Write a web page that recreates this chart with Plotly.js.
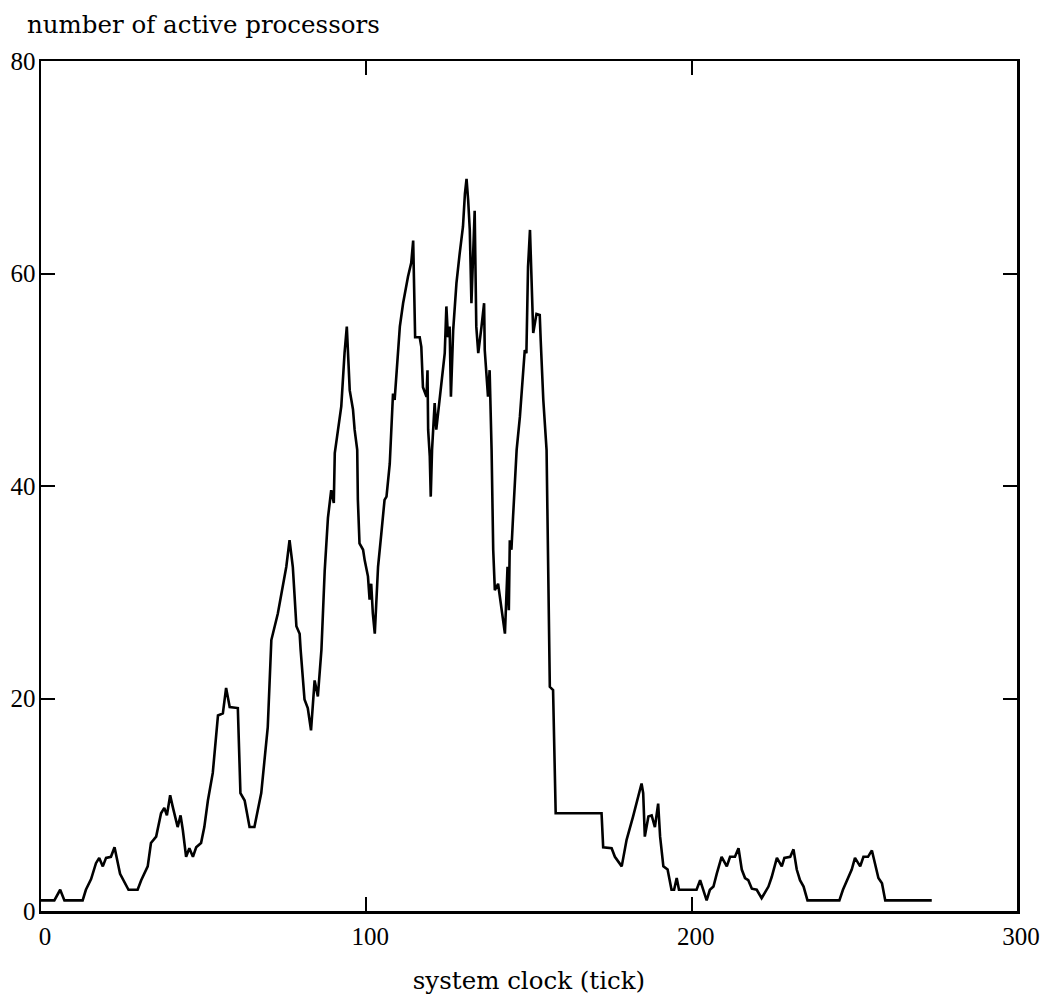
<!DOCTYPE html>
<html>
<head>
<meta charset="utf-8">
<script src="https://cdn.plot.ly/plotly-3.0.1.min.js"></script>
<style>
  html, body { margin: 0; padding: 0; background: #ffffff; }
  #chart { width: 1042px; height: 1003px; }
</style>
</head>
<body>
<div id="chart"></div>
<script>
// system clock (tick)
const ticks = [
  0, 4.1, 5.9, 7.2, 12.8, 13.8, 15.4, 16.9, 17.9, 19, 20, 21.5, 22.6, 24.3, 26.9, 29.7,
  30.8, 32.8, 33.8, 35.4, 36.9, 37.9, 38.7, 39.7, 40.5, 42, 42.9, 43.6, 44.6, 45.6, 46.7,
  47.7, 49.2, 50.2, 51.3, 52.8, 54.4, 55.9, 56.9, 58, 60.5, 61.3, 62.6, 64.1, 65.6, 67.7,
  69.7, 70.8, 72.8, 74.4, 75.4, 76.4, 77.4, 77.9, 78.5, 79.5, 79.8, 81, 82, 83, 84.1, 85.1,
  86.2, 87.2, 88.2, 89.2, 90, 90.3, 91.3, 92.3, 93.3, 94, 94.9, 95.9, 96.4, 97.2, 97.4,
  97.9, 99, 99.5, 100.5, 101, 101.5, 102, 102.6, 103.1, 103.6, 104.6, 105.6, 106.2, 107.2,
  108.2, 108.7, 110.3, 111.3, 112.8, 113.8, 114.4, 115, 116.4, 116.9, 117.4, 118.5, 118.8,
  119, 119.5, 119.8, 120.2, 121, 121.5, 122, 123.1, 124.1, 124.6, 125.1, 125.6, 126, 126.7,
  127.7, 128.7, 129.7, 130.3, 130.8, 131.3, 131.8, 132.3, 132.8, 133.3, 133.8, 134.4, 135.4,
  136.2, 136.4, 136.9, 137.4, 137.9, 138.5, 139, 139.5, 140.5, 141.5, 142.6, 143.4, 143.8,
  144.1, 144.6, 145.1, 145.6, 146.2, 147.2, 148.2, 148.7, 149.2, 149.7, 150.3, 150.8, 151.3,
  152.3, 153.3, 153.6, 154.4, 155.4, 155.9, 156.1, 156.4, 157.4, 157.7, 158.2, 172.3, 172.8,
  175.4, 176.4, 178.5, 180, 182, 183.6, 184.6, 185.1, 185.6, 186.7, 187.7, 188.7, 189.7,
  190.3, 191.3, 192.6, 193.3, 193.8, 194.6, 195.4, 196.1, 201.5, 202.6, 204.6, 205.6, 206.7,
  207.7, 209.2, 210.8, 211.8, 213.3, 214.4, 215.4, 216.4, 217.4, 218.5, 220, 221.5, 223.6,
  224.6, 226.2, 227.7, 228.5, 230.3, 231.3, 232.3, 233.3, 234.4, 235.6, 245.4, 246.5, 249.2,
  250.2, 251.8, 252.8, 254.2, 255.4, 256.4, 257.4, 258.5, 259.5, 273.8
];

// number of active processors
const active = [
  1, 1, 2, 1, 1, 2, 3, 4.5, 5, 4.2, 5, 5.1, 6, 3.5, 2, 2,
  2.9, 4.2, 6.4, 7, 9.2, 9.7, 9, 10.9, 9.8, 7.9, 9, 7.6, 5.1, 5.9, 5.1,
  6, 6.4, 7.9, 10.4, 13, 18.4, 18.6, 21, 19.2, 19.1, 11.1, 10.4, 7.9, 7.9, 11.1,
  17.3, 25.5, 28, 30.5, 32.4, 34.9, 32.4, 29.9, 26.8, 26.1, 24.6, 19.9, 19.1, 17, 21.7, 20.2,
  24.6, 32, 37, 39.6, 38.4, 43.1, 45.3, 47.5, 52.5, 55, 49, 47.2, 45.3, 43.4, 38.7,
  34.6, 34, 33, 31.5, 29.3, 30.8, 28, 26.1, 29.6, 32.4, 35.5, 38.7, 39, 42.1,
  48.7, 48.1, 55, 57.2, 59.7, 61, 63.1, 54, 54, 53.1, 49.3, 48.4, 50.9,
  45.3, 42.8, 39, 43.4, 47.8, 45.3, 46.6, 49.7, 52.5, 56.9, 54, 55, 48.4, 54.7,
  59.1, 61.9, 64.4, 67.5, 68.9, 66.9, 64.1, 57.2, 62.5, 65.9, 55, 52.5, 55,
  57.2, 52.8, 50.3, 48.4, 50.9, 43.4, 34, 30.2, 30.8, 28.3, 26.1, 32.4, 28.3,
  34.9, 34, 37.1, 40.2, 43.4, 46.5, 50.3, 52.8, 52.5, 60.6, 64.1, 58.1, 54.4,
  56.2, 56.1, 53.7, 48.1, 43.4, 30.2, 24.6, 21.1, 20.8, 15.2, 9.2, 9.2, 6,
  5.9, 5.1, 4.2, 6.7, 8.9, 10.8, 12, 11.1, 7, 8.9, 9, 7.9, 10.1,
  7, 4.2, 3.9, 2.6, 2, 2, 3.1, 2, 2, 2.9, 1, 2, 2.3,
  3.5, 5.1, 4.2, 5.1, 5.1, 5.9, 3.9, 3.1, 2.9, 2.1, 2, 1.2, 2.3,
  3.2, 5, 4.2, 5, 5.1, 5.8, 3.9, 2.9, 2.3, 1, 1, 2, 3.9,
  5, 4.2, 5.1, 5.1, 5.7, 4.5, 3.1, 2.6, 1, 1
];

const xTickVals = [0, 100, 200, 300];
const yTickVals = [0, 20, 40, 60, 80];

const titleFont = { family: 'DejaVu Serif, serif', size: 24.5, color: '#000' };
const tickFont = { family: 'Liberation Serif, serif', size: 25, color: '#000' };

const trace = {
  x: ticks,
  y: active,
  type: 'scatter',
  mode: 'lines',
  line: { color: '#000', width: 2.6 },
  hoverinfo: 'skip'
};

const axisCommon = {
  showgrid: false,
  zeroline: false,
  showline: true,
  linecolor: '#000',
  linewidth: 2.5,
  mirror: 'ticks',
  ticks: 'inside',
  ticklen: 14,
  tickwidth: 2,
  tickcolor: '#000',
  tickfont: tickFont
};

const layout = {
  width: 1042,
  height: 1003,
  margin: { l: 41, r: 25, t: 61, b: 92 },
  paper_bgcolor: '#fff',
  plot_bgcolor: '#fff',
  showlegend: false,
  title: {
    text: 'number of active processors',
    font: titleFont,
    x: 27 / 1042,
    xanchor: 'left',
    xref: 'container',
    y: 1 - 24 / 1003,
    yref: 'container',
    yanchor: 'middle'
  },
  xaxis: Object.assign({}, axisCommon, {
    range: [0, 300],
    tickvals: xTickVals,
    ticktext: xTickVals.map(String),
    ticklabelstandoff: 1,
    ticklabelshift: 4,
    title: { text: 'system clock (tick)', font: titleFont, standoff: 24 }
  }),
  yaxis: Object.assign({}, axisCommon, {
    range: [0, 80],
    tickvals: yTickVals,
    ticktext: yTickVals.map(String),
    ticklabelstandoff: -2
  })
};

Plotly.newPlot('chart', [trace], layout, { displayModeBar: false, staticPlot: true });
</script>
</body>
</html>
